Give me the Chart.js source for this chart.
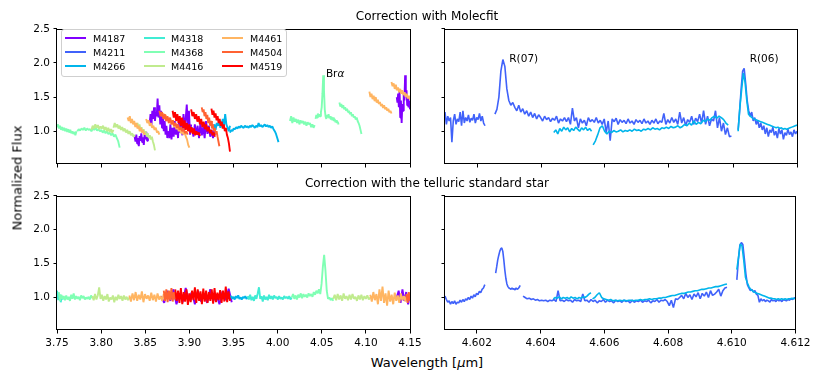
<!DOCTYPE html>
<html lang="en">
<head>
<meta charset="UTF-8">
<title>Correction with Molecfit / telluric standard star</title>
<script src="https://cdn.jsdelivr.net/npm/chart.js"></script>
<style>
  body { margin: 0; padding: 0; background: #fff; font-family: 'DejaVu Sans', sans-serif; }
  #fig { position: relative; width: 814px; height: 376px; overflow: hidden; background: #fff; }
  canvas { position: absolute; }
  .txt { position: absolute; white-space: nowrap; color: #000; line-height: 1; font-weight: normal; }
  #legend { position: absolute; left: 61px; top: 29px; width: 224px; height: 46px;
    border: 1px solid #cfcfcf; border-radius: 3px; background: rgba(255,255,255,0.8); }
  #legend .ln { position: absolute; width: 21px; height: 2px; }
  #legend .lb { position: absolute; font-size: 9.5px; line-height: 1; color: #000; }
</style>
</head>
<body>
<div id="fig">
  <canvas id="tl" width="420" height="170" style="left:0;top:19px"></canvas>
  <canvas id="tr" width="394" height="170" style="left:420px;top:19px"></canvas>
  <canvas id="bl" width="428" height="166" style="left:0;top:186px"></canvas>
  <canvas id="br" width="386" height="166" style="left:428px;top:186px"></canvas>

  <div class="txt" style="left:427px;top:9.5px;font-size:12px;transform:translateX(-50%)">Correction with Molecfit</div>
  <div class="txt" style="left:427px;top:177px;font-size:12px;transform:translateX(-50%)">Correction with the telluric standard star</div>
  <div class="txt" style="left:427px;top:355.5px;font-size:13px;transform:translateX(-50%)">Wavelength [<i>μ</i>m]</div>
  <div class="txt" style="left:17px;top:178px;font-size:13px;transform:translate(-50%,-50%) rotate(-90deg)">Normalized Flux</div>
  <div id="legend"></div>
</div>

<script>
// stars and their colours (rainbow colormap, 9 steps)
const stars = ['M4187', 'M4211', 'M4266', 'M4318', 'M4368', 'M4416', 'M4461', 'M4504', 'M4519'];
const starColors = ['#8000ff', '#4062fa', '#00b5eb', '#40ecd4', '#80ffb4', '#c0eb8e', '#ffb562', '#ff6232', '#ff0000'];

const xTicksL = [3.75, 3.80, 3.85, 3.90, 3.95, 4.00, 4.05, 4.10, 4.15];
const xTicksM = [4.602, 4.604, 4.606, 4.608, 4.610, 4.612];
const yTicks = [1.0, 1.5, 2.0, 2.5];

// spectrum pieces: [star, first wavelength, last wavelength, flux values]
const molecfitL = [
  ['M4187', 3.838, 3.854, [0.92,0.85,0.95,0.82,0.9,0.78,0.93,0.86,0.97,0.84,0.91,0.8,0.95,0.88,0.99,0.86,0.93,0.9]],
  ['M4187', 3.855, 3.876, [1.12,1.25,1.08,1.3,1.18,1.35,1.15,1.28,1.22,1.48,1.2,1.38,1.1,1.3,1.05,1.25,1.0,1.15,0.95,1.08,0.9,1.0]],
  ['M4187', 3.876, 3.902, [1.0,0.9,1.1,0.88,1.05,0.92,1.15,0.95,1.1,0.9,1.2,0.98,1.12,0.94,1.25,1.02,1.18,1.39,1.05,1.3,0.95,1.1]],
  ['M4187', 3.903, 3.930, [1.05,0.92,1.1,0.95,1.08,0.9,1.12,0.94,1.06,0.9,1.15,0.96,1.08,0.92,1.02,0.9,1.05,0.95]],
  ['M4187', 4.135, 4.150, [1.5,1.42,1.55,1.35,1.6,1.2,1.45,1.12,1.4,1.3,1.55,1.45,1.82,1.5,1.6,1.38,1.5,1.35,1.45,1.32]],
  ['M4266', 3.927, 3.946, [1.05,1.1,1.02,1.12,1.08,1.15,1.05,1.1,1.18,1.08,1.25,1.1,1.05,1.0,1.08]],
  ['M4266', 3.946, 4.001, [0.98,1.02,1.0,1.04,1.03,1.06,1.04,1.07,1.05,1.08,1.06,1.05,1.08,1.06,1.07,1.05,1.08,1.06,1.09,1.07,
                           1.05,1.08,1.06,1.12,1.07,1.09,1.06,1.08,1.1,1.07,1.09,1.06,1.08,1.05,1.07,1.03,1.0,0.96,0.9,0.84]],
  ['M4368', 3.750, 3.772, [1.06,1.1,1.04,1.08,1.02,1.06,1.01,1.05,1.0,1.04,0.99,1.03,0.98,1.02,0.97,1.0,0.96,0.99,0.94,1.0]],
  ['M4368', 3.773, 3.821, [1.0,1.03,1.01,1.04,1.02,1.05,1.01,1.04,1.02,1.03,1.0,1.04,1.02,1.05,1.01,1.03,1.0,1.02,0.98,1.01,
                           0.97,1.0,0.96,0.98,0.94,0.97,0.92,0.95,0.9,0.85,0.76]],
  ['M4368', 4.014, 4.042, [1.15,1.22,1.12,1.2,1.14,1.18,1.12,1.17,1.1,1.16,1.12,1.15,1.1,1.14,1.08,1.13,1.1,1.12,1.06,1.1,1.05,1.09]],
  ['M4368', 4.043, 4.069, [1.18,1.24,1.2,1.26,1.21,1.25,1.22,1.28,1.35,1.55,1.82,1.6,1.32,1.22,1.18,1.24,1.2,1.25,1.19,1.22,
                           1.17,1.21,1.16,1.2,1.15,1.18,1.13,1.16,1.12,1.14,1.1]],
  ['M4368', 4.070, 4.095, [1.42,1.36,1.4,1.34,1.38,1.32,1.35,1.3,1.33,1.28,1.3,1.25,1.28,1.22,1.25,1.2,1.22,1.17,1.2,1.15,1.12,1.08,1.02,0.96]],
  ['M4416', 3.789, 3.814, [1.02,1.08,1.04,1.1,1.05,1.09,1.03,1.07,1.04,1.08,1.02,1.06,1.0,1.05,0.99,1.03,0.98,1.02]],
  ['M4416', 3.814, 3.838, [1.05,1.12,1.06,1.1,1.04,1.08,1.02,1.06,1.0,1.04,0.98,1.02,0.96,1.0,0.94,0.97,0.92,0.95]],
  ['M4416', 3.840, 3.861, [1.08,1.12,1.04,1.1,1.02,1.06,0.98,1.03,0.95,1.0,0.92,0.97,0.9,0.94,0.88,0.92,0.85,0.8,0.72]],
  ['M4461', 3.830, 3.850, [1.2,1.15,1.22,1.12,1.18,1.1,1.15,1.06,1.12,1.04,1.08,1.0,1.05,0.98,1.02,0.95,0.98]],
  ['M4461', 3.851, 3.866, [1.18,1.12,1.16,1.08,1.12,1.05,1.08,1.02,1.05,0.98,1.0,0.95]],
  ['M4461', 3.868, 3.900, [1.28,1.22,1.26,1.18,1.24,1.15,1.2,1.12,1.17,1.1,1.14,1.06,1.1,1.03,1.07,1.0,1.04,0.97,1.0,0.95,
                           0.98,0.92,0.88,0.8,0.76]],
  ['M4461', 4.104, 4.129, [1.58,1.5,1.55,1.47,1.52,1.44,1.5,1.42,1.46,1.4,1.43,1.37,1.4,1.34,1.38,1.32,1.35,1.3,1.33,1.28,1.3,1.26]],
  ['M4461', 4.129, 4.150, [1.72,1.66,1.7,1.62,1.68,1.6,1.64,1.57,1.62,1.55,1.6,1.53,1.57,1.5,1.55,1.48,1.52,1.46]],
  ['M4504', 3.866, 3.898, [1.3,1.22,1.28,1.18,1.25,1.15,1.22,1.12,1.2,1.1,1.16,1.08,1.12,1.05,1.1,1.02,1.06,1.0,1.04,0.97,1.0,0.95]],
  ['M4504', 3.914, 3.934, [1.35,1.28,1.32,1.22,1.28,1.18,1.24,1.12,1.2,1.08,1.15,1.04,1.1,1.0,1.05,0.96,1.0,0.92,0.85,0.78]],
  ['M4519', 3.881, 3.912, [1.3,1.2,1.28,1.15,1.25,1.12,1.22,1.08,1.2,1.05,1.16,1.02,1.12,1.0,1.1,0.98,1.06,0.96,1.04,0.94,1.0,0.95,0.98,0.93]],
  ['M4519', 3.902, 3.929, [1.32,1.22,1.28,1.18,1.25,1.14,1.22,1.1,1.18,1.06,1.14,1.03,1.1,1.0,1.06,0.97,1.02,0.94,0.98,0.92]],
  ['M4519', 3.925, 3.946, [1.33,1.24,1.3,1.2,1.26,1.16,1.22,1.12,1.18,1.08,1.14,1.04,1.1,1.0,1.05,0.95,0.9,0.82,0.7]]
];

const telluricL = [
  ['M4187', 3.868, 3.948, [1.02,0.92,1.1,0.95,1.12,0.9,1.06,0.93,1.14,0.96,1.08,0.9,1.1,0.94,1.05,0.92,1.12,0.95,1.04,0.9,1.09,0.96,1.13,0.93]],
  ['M4187', 4.135, 4.150, [1.0,1.1,0.92,1.12,0.95,1.08,0.9,1.05]],
  ['M4266', 3.946, 3.966, [1.0,1.02,0.98,1.01,0.97,1.02,0.99,1.03,0.98,1.0,0.97,1.01,0.99,1.02,0.98,1.0]],
  ['M4318', 3.750, 3.757, [1.1,0.96,1.05,0.93,1.02,0.97]],
  ['M4318', 3.966, 4.016, [1.02,0.97,1.04,0.96,1.01,0.95,1.03,0.98,1.06,1.15,0.98,1.02,0.94,1.03,0.97,1.01,0.96,1.04,0.98,1.02,
                           0.97,1.03,0.99,1.01,0.97,1.02,0.98,1.0,0.97,1.02,0.99,1.01,0.98,1.02,0.97,1.0]],
  ['M4368', 3.752, 3.790, [1.08,0.95,1.04,0.98,1.02,0.96,1.03,0.97,1.01,0.95,1.04,0.98,1.06,0.97,1.02,0.98,1.01,0.96,1.03,0.99,
                           1.02,0.97,1.0,0.98,1.01,0.97,1.03,0.99]],
  ['M4368', 4.016, 4.063, [1.0,1.05,0.98,1.03,0.97,1.04,1.0,1.06,0.99,1.05,1.01,1.04,1.0,1.06,1.02,1.05,1.01,1.08,1.04,1.1,
                           1.06,1.12,1.05,1.2,1.45,1.63,1.4,1.1,0.98,1.0,0.96,0.99,0.95]],
  ['M4416', 3.790, 3.832, [1.02,0.96,1.05,0.97,1.03,1.15,0.98,1.04,0.95,1.02,0.97,1.05,0.94,1.0,0.97,1.03,0.93,1.01,0.96,1.04,
                           0.98,1.02,0.95,1.03,0.97,1.01,0.96,1.0]],
  ['M4416', 4.063, 4.105, [0.98,1.04,0.96,1.05,0.97,1.03,0.95,1.06,0.98,1.02,0.96,1.04,0.97,1.05,0.98,1.01,0.95,1.03,0.97,1.04,
                           0.96,1.02,0.98,1.03,0.97,1.0]],
  ['M4461', 3.832, 3.871, [1.03,0.94,1.06,0.96,1.08,0.95,1.04,0.97,1.09,0.93,1.05,0.98,1.03,0.95,1.07,0.96,1.04,0.94,1.06,0.97,1.02,0.95,1.05]],
  ['M4461', 4.105, 4.150, [1.04,0.94,1.08,0.96,1.05,0.9,1.12,0.95,1.16,0.92,1.06,0.88,1.1,0.94,1.04,0.9,1.07,0.95,1.03,0.92,
                           1.06,0.96,1.02,0.94,1.05,0.97,1.0]],
  ['M4504', 3.871, 3.884, [1.1,0.95,1.12,0.93,1.1,0.96,1.14,0.94,1.08,0.97]],
  ['M4504', 4.146, 4.150, [1.05,0.92,1.08,0.95]],
  ['M4519', 3.884, 3.946, [1.12,0.95,1.1,0.92,1.14,0.9,1.08,0.94,1.12,0.89,1.06,0.93,1.1,0.96,1.15,0.92,1.12,0.95,1.09,0.9,
                           1.13,0.94,1.1,0.92,1.08,0.95,1.12,0.91,1.14,0.93,1.07,0.96,1.11,0.92,1.1,0.94,1.16,0.93,1.09,0.95]]
];

const molecfitM = [
  ['M4211', 4.60100, 4.60225, [1.28,1.1,1.22,1.15,1.2,0.84,1.15,1.25,1.1,1.18,1.14,1.28,1.08,1.3,1.12,1.2,1.15,1.24,1.13,1.19,
                               1.16,1.25,1.12,1.2,1.17,1.26,1.15,1.22,1.12,1.08]],
  ['M4211', 4.60256, 4.60995, [1.25,1.32,1.5,1.88,2.05,1.95,1.62,1.45,1.38,1.42, 1.35,1.3,1.38,1.28,1.33,1.25,1.3,1.22,1.28,1.2,
                               1.26,1.18,1.24,1.2,1.15,1.22,1.17,1.2,1.14,1.19, 1.16,1.22,1.12,1.18,1.15,1.2,1.14,1.2,1.1,1.34,
                               1.15,1.2,1.05,1.18,1.12,1.16,1.08,1.2,1.14,1.17, 1.13,1.2,1.12,1.16,1.1,1.18,0.98,1.15,0.86,1.18,
                               1.14,1.19,1.1,1.17,1.13,1.16,1.11,1.18,1.12,1.15, 1.1,1.17,1.13,1.16,1.11,1.18,1.12,1.15,1.1,1.16,
                               1.12,1.18,1.11,1.15,1.13,1.26,1.1,1.17,1.12,1.2, 1.13,1.18,1.1,1.28,1.12,1.2,1.08,1.17,1.13,1.22,
                               1.1,1.19,1.14,1.25,1.12,1.3,1.1,1.22,1.08,1.18, 1.15,1.3,1.05,1.2,1.0,1.12,0.95,1.05,0.92,0.93]],
  ['M4211', 4.61016, 4.61200, [1.02,1.3,1.62,1.88,1.92,1.7,1.45,1.3,1.22,1.28,1.15,1.2,1.1,1.16,1.05,1.12,1.02,1.08,0.96,1.05,
                               0.92,1.02,0.98,1.06,0.94,1.0,0.9,1.04,0.96,1.02,0.88,0.98,0.94,1.03,0.95,0.99,0.92,1.02,0.96,1.0]],
  ['M4266', 4.60440, 4.60558, [0.98,1.02,0.96,1.04,1.0,1.06,1.02,1.05,0.99,1.04,1.01,1.06,1.03,1.0,1.05,1.02,1.06,1.01,1.04,1.0]],
  ['M4266', 4.60563, 4.60985, [0.8,0.86,0.95,1.05,1.08,1.0,0.96,1.0,0.98,1.01,0.99,1.0,1.02,0.99,1.01,1.0,1.02,1.0,1.03,1.01,
                               1.02,1.0,1.03,1.02,1.04,1.02,1.05,1.03,1.04,1.02,1.05,1.04,1.06,1.04,1.07,1.05,1.06,1.08,1.05,1.07,
                               1.1,1.08,1.12,1.09,1.15,1.1,1.13,1.11,1.16,1.14,1.18,1.16,1.2,1.22,1.19,1.22,1.2,1.17,1.12,1.09]],
  ['M4266', 4.61016, 4.61200, [1.0,1.35,1.6,1.85,1.72,1.45,1.25,1.22,1.2,1.18,1.17,1.16,1.15,1.14,1.13,1.12,1.11,1.1,1.09,1.08,
                               1.07,1.06,1.05,1.06,1.04,1.05,1.03,1.04,1.03,1.04,1.05,1.06,1.07,1.08,1.09]]
];

const telluricM = [
  ['M4211', 4.60100, 4.60225, [1.02,0.97,0.93,0.95,0.9,0.94,0.91,0.95,0.9,0.93,0.92,0.96,0.93,0.97,0.94,0.98,0.96,1.0,0.97,1.02,
                               0.99,1.04,1.01,1.06,1.04,1.09,1.07,1.12,1.14,1.19]],
  ['M4211', 4.60259, 4.60336, [1.36,1.45,1.55,1.62,1.68,1.72,1.73,1.68,1.55,1.4,1.28,1.2,1.16,1.14,1.13,1.12,1.14,1.12,1.13,1.11,
                               1.14,1.12,1.13,1.15,1.18]],
  ['M4211', 4.60345, 4.60985, [1.02,1.0,0.98,0.99,0.97,0.98,0.96,0.97,0.95,0.96, 0.95,0.96,0.94,0.96,0.95,0.97,0.94,1.1,0.95,0.96,
                               0.94,0.97,0.95,0.96,0.93,0.97,0.95,0.96,0.94,1.05, 0.95,0.96,0.93,0.97,0.94,0.96,0.92,0.95,0.94,0.97,
                               0.93,0.96,0.94,0.95,0.92,0.96,0.94,0.95,0.93,0.96, 0.94,0.95,0.92,0.96,0.93,0.95,0.94,0.96,0.93,0.95,
                               0.94,0.96,0.92,0.95,0.94,0.97,0.93,0.96,0.95,0.97, 0.94,0.88,0.96,0.85,0.98,0.97,1.0,1.03,0.98,1.06,
                               1.0,1.04,0.97,1.05,1.01,1.07,0.98,1.06,1.02,1.08, 1.0,1.1,1.03,1.05,1.08,1.12,1.02,1.1,1.14,1.15]],
  ['M4211', 4.61016, 4.61200, [1.26,1.55,1.77,1.81,1.78,1.57,1.35,1.19,1.14,1.1,1.12,1.08,1.1,1.05,1.03,0.93,0.98,0.95,0.97,0.94,
                               0.96,0.95,0.93,0.97,0.95,0.96,0.94,0.97,0.95,0.96,0.94,0.97,0.96,0.95,0.97,0.96,0.98,0.97,0.99,1.0]],
  ['M4266', 4.60440, 4.60558, [0.98,1.0,0.99,1.01,0.98,1.0,0.99,1.0,0.98,1.01,0.99,1.0,0.98,1.0,0.99,1.01,1.0,1.02,1.05,1.07]],
  ['M4266', 4.60563, 4.60985, [0.98,1.0,1.04,1.07,1.0,0.98,0.97,0.96,0.97,0.95,0.96,0.95,0.96,0.95,0.96,0.95,0.96,0.96,0.95,0.96,
                               0.96,0.97,0.96,0.97,0.97,0.98,0.97,0.98,0.98,0.99,0.99,1.0,1.0,1.01,1.02,1.03,1.03,1.04,1.05,1.06,
                               1.06,1.07,1.08,1.08,1.09,1.1,1.1,1.11,1.12,1.12,1.13,1.14,1.14,1.15,1.16,1.16,1.17,1.18,1.19,1.2]],
  ['M4266', 4.61016, 4.61200, [1.41,1.6,1.79,1.76,1.55,1.3,1.22,1.16,1.12,1.1,1.08,1.07,1.06,1.05,1.04,1.03,1.02,1.01,1.0,0.99,
                               0.99,0.98,0.98,0.97,0.98,0.97,0.98,0.97,0.98,0.97,0.98,0.98,0.99,0.98,0.99]]
];

// line labels [x, y(baseline), text, italic part]
const notesL = [[4.0547, 1.80, 'Br', 'α']];
const notesM = [[4.60301, 2.01, 'R(07)', ''], [4.61052, 2.01, 'R(06)', '']];

Chart.defaults.font.family = "'DejaVu Sans', sans-serif";
Chart.defaults.color = '#000';

function toDatasets(pieces, width) {
  const sets = pieces.map(([star, x0, x1, ys]) => ({
    data: ys.map((y, i) => ({ x: x0 + (x1 - x0) * i / (ys.length - 1), y: y })),
    borderColor: starColors[stars.indexOf(star)],
    borderWidth: width,
    borderJoinStyle: 'bevel',
    pointRadius: 0,
    tension: 0,
    fill: false
  }));
  // chart.js paints the first dataset on top, matplotlib paints the last one on top
  return sets.reverse();
}

const framePlugin = {
  id: 'frame',
  afterDatasetsDraw(chart) {
    const a = chart.chartArea, ctx = chart.ctx;
    ctx.save();
    ctx.strokeStyle = '#000';
    ctx.lineWidth = 1;
    ctx.strokeRect(Math.round(a.left) - 0.5, Math.round(a.top) + 0.5,
      Math.round(a.right - a.left) + 1, Math.round(a.bottom - a.top) - 1);
    ctx.restore();
  }
};

const notePlugin = {
  id: 'notes',
  afterDatasetsDraw(chart, args, opts) {
    const ctx = chart.ctx, sx = chart.scales.x, sy = chart.scales.y;
    ctx.save();
    ctx.fillStyle = '#000';
    ctx.textBaseline = 'alphabetic';
    (opts.items || []).forEach(([x, y, txt, it]) => {
      const px = sx.getPixelForValue(x), py = sy.getPixelForValue(y);
      ctx.font = "10.5px 'DejaVu Sans'";
      ctx.fillText(txt, px, py);
      if (it) {
        const w = ctx.measureText(txt).width;
        ctx.font = "italic 10.5px 'DejaVu Sans'";
        ctx.fillText(it, px + w, py);
      }
    });
    ctx.restore();
  }
};

function makeChart(id, pieces, opt) {
  new Chart(document.getElementById(id), {
    type: 'line',
    data: { datasets: toDatasets(pieces, opt.lw) },
    plugins: [framePlugin, notePlugin],
    options: {
      responsive: false,
      animation: false,
      events: [],
      layout: { padding: { top: 7, right: opt.padRight, left: 0, bottom: 0 } },
      plugins: { legend: { display: false }, tooltip: { enabled: false }, notes: { items: opt.notes } },
      scales: {
        x: {
          type: 'linear',
          bounds: 'data',
          min: opt.xMin,
          max: opt.xMax,
          afterBuildTicks: s => { s.ticks = opt.xTicks.map(v => ({ value: v })); },
          afterFit: s => { s.height = opt.xHeight; },
          grid: { drawOnChartArea: false, drawTicks: true, tickLength: 3.5, color: '#000' },
          border: { display: false },
          ticks: {
            maxRotation: 0,
            autoSkip: false,
            padding: 3.5,
            font: { size: 10.5 },
            callback: v => opt.xLabels ? v.toFixed(opt.xDigits) : ''
          }
        },
        y: {
          type: 'linear',
          bounds: 'data',
          min: 0.52,
          max: 2.5,
          afterBuildTicks: s => { s.ticks = yTicks.map(v => ({ value: v })); },
          afterFit: s => { s.width = opt.yWidth; },
          grid: { drawOnChartArea: false, drawTicks: true, tickLength: 3.5, color: '#000' },
          border: { display: false },
          ticks: {
            autoSkip: false,
            padding: 3.5,
            font: { size: 10.5 },
            callback: v => opt.yLabels ? v.toFixed(1) : ''
          }
        }
      }
    }
  });
}

makeChart('tl', molecfitL, { xMin: 3.75, xMax: 4.15, xTicks: xTicksL, xDigits: 2, xLabels: false, yLabels: true,
  yWidth: 57, xHeight: 25, padRight: 10, lw: 1.9, notes: notesL });
makeChart('tr', molecfitM, { xMin: 4.601, xMax: 4.612, xTicks: xTicksM, xDigits: 3, xLabels: false, yLabels: false,
  yWidth: 25, xHeight: 25, padRight: 17, lw: 1.6, notes: notesM });
makeChart('bl', telluricL, { xMin: 3.75, xMax: 4.15, xTicks: xTicksL, xDigits: 2, xLabels: true, yLabels: true,
  yWidth: 57, xHeight: 22, padRight: 18, lw: 1.9, notes: [] });
makeChart('br', telluricM, { xMin: 4.601, xMax: 4.612, xTicks: xTicksM, xDigits: 3, xLabels: true, yLabels: false,
  yWidth: 17, xHeight: 22, padRight: 17, lw: 1.6, notes: [] });

// legend: three columns of three, filled column by column
const legend = document.getElementById('legend');
const colLine = [3, 82, 160], colText = [31, 109, 188], rowY = [8.3, 22.3, 36.3];
stars.forEach((name, i) => {
  const c = Math.floor(i / 3), r = i % 3;
  const ln = document.createElement('div');
  ln.className = 'ln';
  ln.style.left = colLine[c] + 'px';
  ln.style.top = (rowY[r] - 1) + 'px';
  ln.style.background = starColors[i];
  legend.appendChild(ln);
  const lb = document.createElement('div');
  lb.className = 'lb';
  lb.style.left = colText[c] + 'px';
  lb.style.top = (rowY[r] - 4.75) + 'px';
  lb.textContent = name;
  legend.appendChild(lb);
});
</script>
</body>
</html>
